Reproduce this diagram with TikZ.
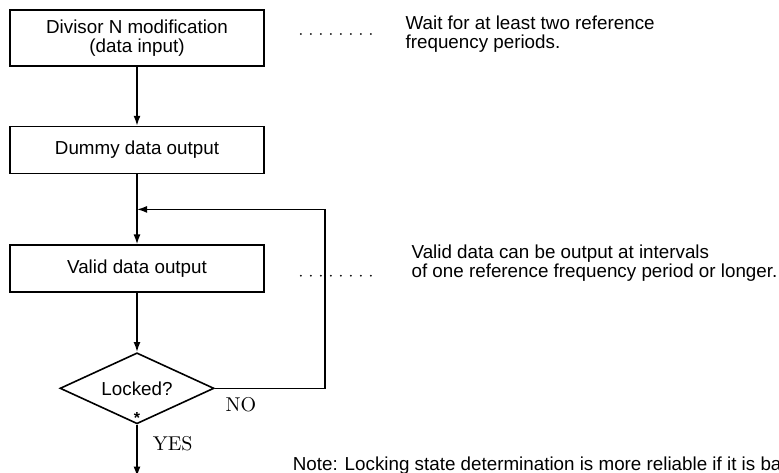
\documentclass[tikz,border=0pt]{standalone}
\usepackage{fontspec}
\setsansfont{Liberation Sans}
\usepackage{tikz}
\usetikzlibrary{arrows.meta,positioning,shapes.geometric,calc}

\begin{document}
\begin{tikzpicture}[node distance=29.5pt,every node/.style={font=\sffamily\fontsize{9.4}{9.6}\selectfont},
  line width=0.8pt,
  flow/.style={-{Latex[length=5pt,width=3.5pt]}},
  box/.style={draw,align=center,inner sep=2pt,minimum width=127pt,minimum height=23.5pt},
  test/.style={draw,diamond,aspect=2,inner sep=0pt,minimum width=77pt,minimum height=35.5pt},
  note/.style={align=left,inner sep=0pt},
  yesno/.style={inner sep=0pt,font=\rmfamily\fontsize{10}{12}\selectfont},
  leader/.style={line cap=round,line width=1pt,dash pattern=on 0pt off 5pt}]
  \useasboundingbox (0,0) rectangle (389.5pt,-236pt);
  \node[box,minimum height=28pt] (divisor) at (68.5pt,-19pt) {Divisor N modification\\(data input)};
  \node[box,below=of divisor] (dummy) {Dummy data output};
  \node[box,below=35pt of dummy] (valid) {Valid data output};
  \node[test,below=of valid] (locked) {Locked?};
  \node[inner sep=0pt,anchor=base,font=\sffamily\bfseries\fontsize{8}{8}\selectfont] (star) at ([yshift=0.4pt]locked.south) {*};
  \coordinate[below=26pt of locked.south] (out);
  \coordinate (join) at ($(dummy.south)!0.5!(valid.north)$);
  \coordinate (loop) at ($(join -| valid.east)+(30pt,0)$);
  \node[yesno,anchor=base west] (no) at ($(locked.east)+(5pt,-11.75pt)$) {NO};
  \node[yesno,anchor=base west] (yes) at ($(locked.south)+(7.5pt,-13pt)$) {YES};
  % remarks on the right
  \node[note,right=70pt of divisor.east,yshift=2.1pt] (wait) {Wait for at least two reference\\frequency periods.};
  \node[note,right=73pt of valid.east,yshift=2.6pt] (interval) {Valid data can be output at intervals\\of one reference frequency period or longer.};
  \node[note,anchor=base west] (remark) at ($(out)+(77.5pt,3pt)$) {Note: Locking state determination is more reliable if it is ba};
  \draw[flow] (divisor) -- (dummy); \draw[flow] (dummy) -- (valid); \draw[flow] (valid) -- (locked);
  \draw[flow] (locked) -- (out);
  \draw[flow] (locked.east) -| (loop) -- (join);
  \draw[leader] ([shift={(18pt,2pt)}]divisor.east) -- ++(36pt,0);
  \draw[leader] ([shift={(18pt,-3.5pt)}]valid.east) -- ++(36pt,0);
\end{tikzpicture}
\end{document}
